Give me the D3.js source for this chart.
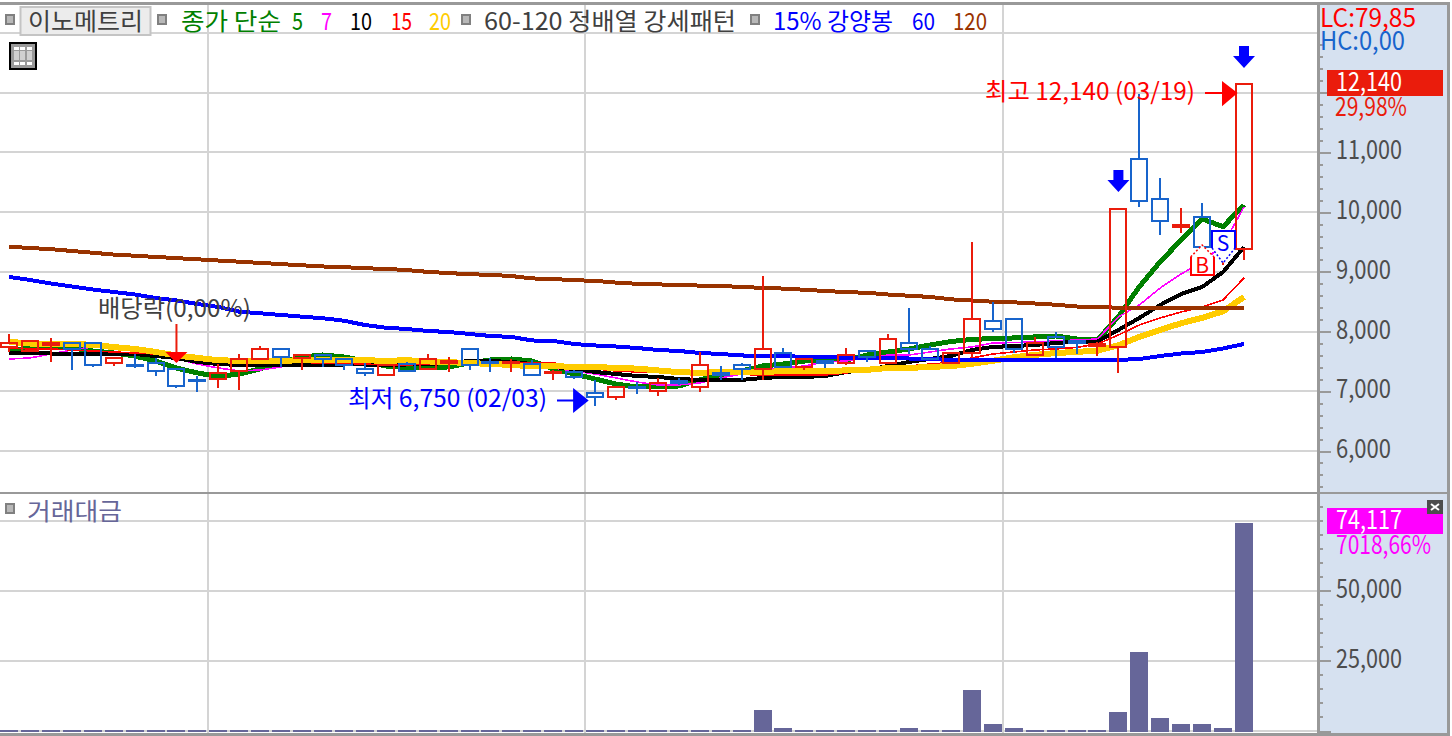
<!DOCTYPE html>
<html><head><meta charset="utf-8">
<script src="https://cdn.jsdelivr.net/npm/d3@7/dist/d3.min.js"></script>
<style>
html,body{margin:0;padding:0;background:#fff;overflow:hidden}
svg{display:block}
text{font-family:"Noto Sans CJK KR","Noto Sans",sans-serif;font-weight:400}
</style></head><body>
<svg id="c" width="1452" height="736"></svg>
<script>
// candle values, index = trading day
const open  = [7736,7680,7770,7815,7815,7468,7446,7480,7379,7189,7200,7346,7535,7714,7563,7614,7547,7379,7267,7457,7379,7468,7714,7496,7468,7457,7312,7323,6977,6899,7077,7011,7178,7077,7312,7446,7379,7647,7413,7513,7480,7681,7468,7815,7714,7468,7636,8183,8217,7602,7915,7842,7759,7748,10897,10227,9758,9925,9423,9390];
const high  = [7960,7848,7887,7815,7815,7552,7625,7552,7379,7256,7457,7625,7759,7714,7614,7614,7547,7480,7446,7491,7625,7580,7714,7552,7535,7524,7357,7357,7189,7077,7156,7223,7223,7658,7424,7480,8931,7725,7547,7524,7725,7681,7960,8395,7759,7647,9501,8496,8217,7915,7993,7859,7826,10059,11980,10567,10065,10160,9562,12140];
const low   = [7664,7680,7496,7357,7402,7424,7390,7256,7055,6994,7060,7022,7535,7402,7357,7402,7357,7256,7267,7329,7357,7329,7357,7329,7329,7273,7189,7200,6754,6854,6955,6921,7105,6994,7189,7189,7189,7413,7357,7390,7441,7496,7468,7625,7524,7468,7558,8000,7636,7602,7552,7625,7591,7301,10081,9618,9646,9423,9116,9200];
const close = [7815,7848,7815,7703,7435,7552,7424,7340,7089,7172,7312,7547,7714,7580,7614,7535,7446,7301,7446,7346,7547,7502,7446,7474,7491,7273,7329,7234,6899,7077,7050,7145,7145,7446,7273,7368,7714,7413,7547,7480,7614,7569,7882,7714,7547,7647,8217,8038,7714,7815,7736,7809,7792,10059,10193,9847,9791,9423,9562,12140];
const upDay = [1,1,1,0,0,1,0,0,0,0,1,1,1,0,1,0,0,0,1,0,1,1,0,0,1,0,1,0,0,1,0,1,0,1,0,0,1,0,1,0,1,0,1,0,0,1,1,0,0,1,0,0,1,1,0,0,1,0,1,1];
// moving averages
const ma5   = [7658,7734,7742,7725,7675,7642,7591,7507,7390,7307,7248,7290,7374,7491,7575,7608,7575,7507,7424,7399,7399,7407,7474,7524,7541,7507,7374,7290,7206,7122,7072,7072,7089,7190,7273,7340,7424,7457,7507,7524,7524,7608,7658,7709,7775,7834,7868,7884,7893,7910,7926,7876,7859,8250,8752,9171,9534,9886,9757,10120];
const ma7   = [7541,7558,7625,7692,7742,7725,7675,7608,7541,7457,7390,7340,7357,7407,7491,7524,7507,7491,7491,7474,7457,7457,7474,7491,7491,7457,7390,7340,7290,7223,7156,7106,7106,7139,7223,7290,7357,7390,7424,7491,7507,7558,7608,7608,7658,7709,7742,7809,7817,7826,7843,7859,7876,8245,8446,8730,8965,9166,9450,10087];
const ma10  = [7642,7642,7633,7625,7625,7625,7625,7591,7558,7491,7457,7440,7440,7440,7440,7440,7449,7449,7440,7449,7457,7474,7507,7507,7491,7457,7407,7374,7323,7290,7256,7240,7206,7190,7190,7190,7223,7240,7240,7256,7323,7357,7424,7491,7541,7591,7692,7742,7759,7775,7809,7826,7834,8027,8228,8446,8630,8747,8998,9417];
const ma15  = [7725,7709,7709,7692,7675,7658,7642,7625,7575,7524,7507,7499,7491,7482,7482,7474,7466,7457,7440,7440,7457,7466,7474,7482,7482,7482,7474,7424,7374,7340,7323,7315,7307,7298,7290,7281,7273,7273,7273,7273,7307,7357,7390,7424,7457,7482,7558,7625,7658,7692,7709,7734,7792,7943,8110,8228,8328,8412,8529,8898];
const ma20  = [7830,7800,7790,7790,7780,7740,7710,7660,7600,7560,7520,7510,7510,7510,7520,7520,7520,7520,7510,7520,7500,7490,7470,7460,7440,7420,7420,7410,7410,7390,7380,7350,7320,7310,7320,7320,7320,7340,7340,7340,7350,7360,7390,7390,7410,7420,7460,7510,7570,7610,7640,7660,7680,7770,7910,8030,8140,8230,8340,8580];
const ma60  = [8915,8864,8806,8755,8705,8663,8621,8563,8521,8462,8412,8333,8306,8278,8250,8223,8182,8110,8065,8043,8010,7993,7960,7926,7910,7851,7843,7792,7767,7750,7725,7692,7675,7642,7625,7600,7591,7591,7575,7575,7558,7558,7558,7549,7541,7524,7524,7524,7524,7524,7524,7524,7524,7524,7541,7591,7633,7658,7717,7792];
const ma120 = [9420,9400,9380,9350,9320,9290,9270,9250,9230,9210,9190,9170,9150,9130,9110,9090,9080,9060,9050,9030,9000,8980,8960,8950,8930,8890,8880,8860,8850,8820,8800,8790,8780,8770,8760,8750,8730,8720,8700,8680,8660,8650,8620,8600,8580,8540,8520,8500,8490,8470,8450,8420,8410,8400,8400,8400,8400,8400,8390,8390];
// traded value
const turnover = [500,500,500,500,500,500,500,500,500,500,500,500,500,500,500,500,500,500,500,500,500,500,500,500,500,500,500,500,500,500,500,500,500,500,500,500,7500,1000,500,500,500,500,500,1000,500,500,14700,2500,1000,500,500,500,500,6800,28200,4700,2500,2500,1000,74117];
// axes
const priceMajor = [6000,7000,8000,9000,10000,11000,12000,13000];
const priceLabels = [6000,7000,8000,9000,10000,11000];
const volMajor = [0,25000,50000,75000];
const volLabels = [25000,50000];
const monthBreaks = [9.5,27.5,47.5];
const priceMinor = d3.range(5400,13400,200);
const volMinor = d3.range(0,85000,5000);

const C = {grid:"#d4d4d4",frame:"#999999",panel:"#d6e1f0",up:"#ea1c0c",down:"#1864cc",txt:"#404040",axisTxt:"#4d4d4d",vol:"#666699",
  ma5:"#008000",ma7:"#ff00ff",ma10:"#000000",ma15:"#ff0000",ma20:"#ffcc00",ma60:"#0000ff",ma120:"#993300"};

const svg = d3.select("#c");
const x = d3.scaleLinear().domain([0,59]).range([9,1244]);
const y = d3.scaleLinear().domain([6000,13000]).range([451,33]);
const v = d3.scaleLinear().domain([0,75000]).range([731,520.5]);
const n = open.length;

function label(g,str,x0,x1,cy,color,size){
  size = size||24;
  return g.append("text").attr("x",x0).attr("y",cy+size*0.36).attr("fill",color).attr("font-size",size)
    .attr("textLength",x1-x0).attr("lengthAdjust","spacingAndGlyphs").text(str);
}
function icon(g,x0,y0,w,h){
  g.append("rect").attr("x",x0+1).attr("y",y0+1).attr("width",w-2).attr("height",h-2)
   .attr("fill","#b8b8b8").attr("stroke","#808080").attr("stroke-width",2);
}

// grid
const grid = svg.append("g").attr("shape-rendering","crispEdges").attr("stroke",C.grid).attr("stroke-width",2);
grid.selectAll(".h").data(priceMajor).join("line").attr("x1",0).attr("x2",1318).attr("y1",d=>y(d)).attr("y2",d=>y(d));
grid.selectAll(".hv").data(volMajor).join("line").attr("x1",0).attr("x2",1318).attr("y1",d=>v(d)).attr("y2",d=>v(d));
grid.selectAll(".v").data(monthBreaks).join("line").attr("x1",d=>x(d)).attr("x2",d=>x(d)).attr("y1",4).attr("y2",733);

// turnover bars
svg.append("g").attr("shape-rendering","crispEdges").selectAll("rect").data(turnover).join("rect")
  .attr("x",(d,i)=>x(i)-9).attr("width",18).attr("y",d=>v(d)).attr("height",d=>732-v(d)).attr("fill",C.vol);

// moving averages
const line = d3.line().x((d,i)=>x(i)).y(d=>y(d));
const mas = [[ma5,C.ma5,5],[ma7,C.ma7,1.6],[ma10,C.ma10,4],[ma15,C.ma15,1.6],[ma20,C.ma20,6],[ma60,C.ma60,4],[ma120,C.ma120,4]];
svg.append("g").attr("fill","none").attr("shape-rendering","crispEdges").selectAll("path").data(mas).join("path")
  .attr("d",d=>line(d[0])).attr("stroke",d=>d[1]).attr("stroke-width",d=>d[2]);

// candles
const idx = d3.range(n);
const cg = svg.append("g").attr("shape-rendering","crispEdges").attr("stroke-width",2).attr("fill","none");
const col = i=>upDay[i]?C.up:C.down;
cg.selectAll(".w").data(idx).join("g").each(function(i){
  const g=d3.select(this), t=y(Math.max(open[i],close[i])), b=y(Math.min(open[i],close[i]));
  g.append("line").attr("x1",x(i)).attr("x2",x(i)).attr("y1",y(high[i])).attr("y2",t).attr("stroke",col(i));
  g.append("line").attr("x1",x(i)).attr("x2",x(i)).attr("y1",b).attr("y2",y(low[i])).attr("stroke",col(i));
  g.append("rect").attr("x",x(i)-8).attr("width",16).attr("y",t).attr("height",Math.max(b-t,1)).attr("stroke",col(i));
});

// frame & right panel
const fr = svg.append("g").attr("shape-rendering","crispEdges");
fr.append("rect").attr("x",1319).attr("y",4).attr("width",128).attr("height",729).attr("fill",C.panel);
fr.append("rect").attr("x",0).attr("y",2).attr("width",1450).attr("height",3).attr("fill",C.frame);
fr.append("rect").attr("x",0).attr("y",491.5).attr("width",1450).attr("height",2.5).attr("fill",C.frame);
fr.append("rect").attr("x",0).attr("y",733).attr("width",1450).attr("height",3).attr("fill",C.frame);
fr.append("rect").attr("x",1317).attr("y",2).attr("width",2.5).attr("height",734).attr("fill",C.frame);
fr.append("rect").attr("x",1447).attr("y",2).attr("width",2.5).attr("height",734).attr("fill",C.frame);

// axes
function styleAxis(g,col){
  g.select(".domain").remove();
  g.selectAll("line").attr("stroke",col).attr("stroke-width",2).attr("shape-rendering","crispEdges");
}
svg.append("g").attr("transform","translate(1319,0)")
  .call(d3.axisRight(y).tickValues(priceMinor.filter(d=>y(d)>36&&y(d)<490)).tickSize(4).tickFormat(""))
  .call(styleAxis,C.frame);
svg.append("g").attr("transform","translate(1319,0)")
  .call(d3.axisRight(v).tickValues(volMinor.filter(d=>v(d)>497)).tickSize(4).tickFormat(""))
  .call(styleAxis,C.frame);
function major(scale,vals,labs){
  const g=svg.append("g").attr("transform","translate(1319,0)")
   .call(d3.axisRight(scale).tickValues(vals).tickSize(12).tickFormat(d=>labs.includes(d)?d3.format(",")(d):""))
   .call(styleAxis,C.frame);
  g.selectAll("text").attr("x",17).attr("dy",null).attr("y",6.5).attr("fill",C.axisTxt).attr("font-size",26)
    .attr("text-anchor","start").attr("font-family",null)
    .each(function(d){ if(labs.includes(d)) d3.select(this).attr("textLength",d>=10000?66:55).attr("lengthAdjust","spacingAndGlyphs"); });
  g.attr("font-family",null);
}
major(y,priceMajor.filter(d=>d<=12000),priceLabels);
major(v,volMajor.filter(d=>d<=50000),volLabels);

const t = svg.append("g");
// header
icon(t,5,14,10,11);
t.append("rect").attr("x",20.5).attr("y",7).attr("width",130).attr("height",28).attr("fill","#ececec").attr("stroke","#c4c4c4").attr("stroke-width",2);
label(t,"이노메트리",28,143,21,C.txt);
icon(t,157,14,10,11);
label(t,"종가 단순",181,281,21,C.ma5);
label(t,"5",292,303,21,C.ma5);
label(t,"7",321,332,21,C.ma7);
label(t,"10",350,372,21,C.ma10);
label(t,"15",391,412,21,C.ma15);
label(t,"20",429,451,21,C.ma20);
icon(t,461,14,10,11);
label(t,"60-120 정배열 강세패턴",484,736,21,C.txt);
icon(t,750,14,10,11);
label(t,"15% 강양봉",773,893,21,C.ma60);
label(t,"60",912,935,21,C.ma60);
label(t,"120",953,987,21,C.ma120);

// table icon
t.append("rect").attr("x",10).attr("y",43).attr("width",26).attr("height",26).attr("fill","#9a9a9a").attr("stroke","#000").attr("stroke-width",2).attr("shape-rendering","crispEdges");
[14,20,27].forEach(xx=>[47,51,62].forEach((yy,k)=>t.append("rect").attr("x",xx).attr("y",yy).attr("width",5).attr("height",k==1?9:3).attr("fill",k==1?"#d0d0d0":"#ffffff").attr("shape-rendering","crispEdges")));

// pane title
icon(t,5,503,10,11);
label(t,"거래대금",27,122,511,C.vol);

// right labels
label(t,"LC:79,85",1320,1416,18,C.ma15,26);
label(t,"HC:0,00",1320,1405,41,C.down,26);
t.append("rect").attr("x",1327).attr("y",70).attr("width",116).attr("height",26).attr("fill",C.up);
label(t,"12,140",1336,1402,82,"#fff",26);
label(t,"29,98%",1335,1407,107,C.up,26);
t.append("rect").attr("x",1327).attr("y",508).attr("width",116).attr("height",26).attr("fill","#ff00ff");
label(t,"74,117",1336,1402,520,"#fff",26);
label(t,"7018,66%",1336,1431,545,"#ff00ff",26);
t.append("rect").attr("x",1427).attr("y",500).attr("width",16).attr("height",14).attr("fill","#4d4d4d");
t.append("path").attr("d","M1431 504l8 6M1439 504l-8 6").attr("stroke","#fff").attr("stroke-width",2);

// annotations
label(t,"배당락(0,00%)",98,251,308,C.txt);
label(t,"최고 12,140 (03/19)",985,1195,91,C.ma15);
label(t,"최저 6,750 (02/03)",348,547,398,C.ma60);
const ax = i=>x(i);
// dividend marker on day 8
t.append("line").attr("x1",ax(8)).attr("x2",ax(8)).attr("y1",324).attr("y2",362).attr("stroke",C.up).attr("stroke-width",2);
t.append("path").attr("d",`M${ax(8)-11} 352H${ax(8)+11}L${ax(8)} 363Z`).attr("fill","#ff0000");
// high arrow
t.append("path").attr("d",`M1205 93H1224M${ax(59)-21} 83L${ax(59)-8} 93L${ax(59)-21} 104Z`).attr("stroke","#ff0000").attr("stroke-width",2).attr("fill","#ff0000");
// low arrow
t.append("path").attr("d",`M557 400.5H576M${ax(28)-21} 390L${ax(28)-8} 400.5L${ax(28)-21} 411Z`).attr("stroke","#0000ff").attr("stroke-width",2).attr("fill","#0000ff");
// blue down arrows
[[59,46],[53,170]].forEach(([i,top])=>{
  const c=ax(i);
  t.append("path").attr("d",`M${c-5} ${top}H${c+5}V${top+10}H${c+11}L${c} ${top+22}L${c-11} ${top+10}H${c-5}Z`).attr("fill","#0000ff");
});
// B marker
const bx=ax(57), sx=ax(58);
t.append("path").attr("d",`M${bx-11.5} 257L${bx} 245L${bx+12} 257V275H${bx-11.5}Z`).attr("fill","#fff");
t.append("path").attr("d",`M${bx-11.5} 257V275H${bx+12}V257`).attr("fill","none").attr("stroke","#ff0000").attr("stroke-width",2).attr("shape-rendering","crispEdges");
t.append("path").attr("d",`M${bx-11.5} 257L${bx} 245L${bx+12} 257`).attr("fill","none").attr("stroke","#ff0000").attr("stroke-width",1.5).attr("stroke-dasharray","2 2");
t.append("text").attr("x",bx).attr("y",273).attr("text-anchor","middle").attr("font-size",21).attr("fill","#ff0000").attr("font-weight",700).text("B");
// S marker
t.append("path").attr("d",`M${sx+12} 231V248L${sx} 263L${sx-11} 248V231Z`).attr("fill","#fff");
t.append("path").attr("d",`M${sx+12} 248V231H${sx-11}V248`).attr("fill","none").attr("stroke","#0000ff").attr("stroke-width",2).attr("shape-rendering","crispEdges");
t.append("path").attr("d",`M${sx-11} 248L${sx} 263L${sx+12} 248`).attr("fill","none").attr("stroke","#0000ff").attr("stroke-width",1.5).attr("stroke-dasharray","2 2");
t.append("text").attr("x",sx).attr("y",251).attr("text-anchor","middle").attr("font-size",21).attr("fill","#0000ff").attr("font-weight",700).text("S");
</script>
</body></html>
